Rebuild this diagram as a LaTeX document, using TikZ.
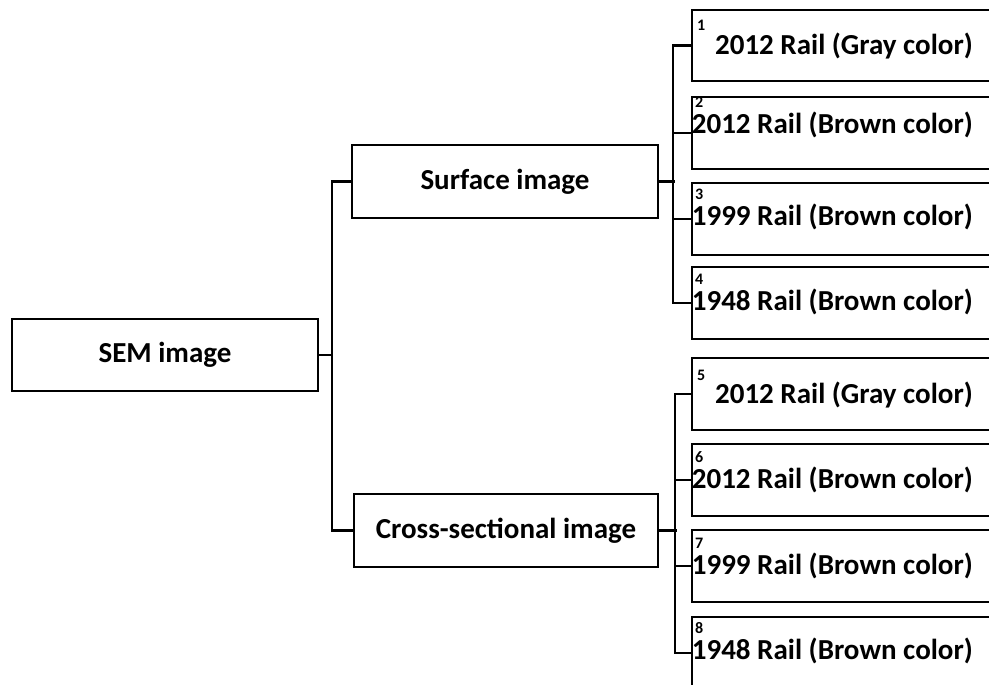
\documentclass[tikz,border=0pt]{standalone}
\usepackage{fontspec}
\setmainfont{Carlito}
\usepackage{tikz}
\usetikzlibrary{positioning}

\tikzset{
    mainbox/.style={draw, line width=2.4pt, minimum height=73pt, inner sep=0pt,
        font=\fontsize{29}{34}\selectfont\bfseries},
    railbox/.style={draw, line width=2.4pt, minimum width=330pt, minimum height=72pt, inner sep=0pt},
    railtxt/.style={anchor=base east, inner sep=0pt, font=\fontsize{29}{34}\selectfont\bfseries},
    railnum/.style={anchor=base west, inner sep=0pt, font=\fontsize{16}{18}\selectfont\bfseries},
    branch/.style={line width=2.4pt}
}

\begin{document}
\begin{tikzpicture}[x=1pt,y=-1pt]
    \useasboundingbox (0,0) rectangle (989,685);
    \clip (0,0) rectangle (989,685);

    % left part
    \node[mainbox, minimum width=306pt, minimum height=72pt] (sem) at (165,355) {SEM image};
    \node[mainbox, minimum width=306pt] (surf) at (505,181.5) {Surface image};
    \node[mainbox, minimum width=304pt] (cross) at (506,530.5) {Cross-sectional image};

    \draw[branch] (sem.east) -- (333,355);
    \draw[branch] (surf.west) -- ++(-19,0) |- (cross.west);

    % surface images
    \node[railbox, minimum height=71pt] (r1) at (857,45.5) {};
    \node[railbox] (r2) at (857,133) {};
    \node[railbox] (r3) at (857,219) {};
    \node[railbox] (r4) at (857,303) {};
    \node[railtxt] (t1) at (973,55) {2012 Rail (Gray color)};
    \node[railtxt] (t2) at (973,134) {2012 Rail (Brown color)};
    \node[railtxt] (t3) at (973,225) {1999 Rail (Brown color)};
    \node[railtxt] (t4) at (973,310) {1948 Rail (Brown color)};
    \node[railnum] (k1) at (697,31) {1};
    \node[railnum] (k2) at (695,108) {2};
    \node[railnum] (k3) at (695,199) {3};
    \node[railnum] (k4) at (695,284) {4};

    \draw[branch] (surf.east) -- ++(16,0);
    \draw[branch] (r1.west) -- ++(-18,0) |- (r4.west);
    \draw[branch] (r2.west) -- ++(-18,0);
    \draw[branch] (r3.west) -- ++(-18,0);

    % cross-sectional images
    \node[railbox] (r5) at (857,394) {};
    \node[railbox] (r6) at (857,480) {};
    \node[railbox] (r7) at (857,566) {};
    \node[railbox] (r8) at (857,653) {};
    \node[railtxt] (t5) at (973,403) {2012 Rail (Gray color)};
    \node[railtxt] (t6) at (973,488) {2012 Rail (Brown color)};
    \node[railtxt] (t7) at (973,574) {1999 Rail (Brown color)};
    \node[railtxt] (t8) at (973,659) {1948 Rail (Brown color)};
    \node[railnum] (k5) at (697,380) {5};
    \node[railnum] (k6) at (695,462) {6};
    \node[railnum] (k7) at (695,548) {7};
    \node[railnum] (k8) at (695,633) {8};

    \draw[branch] (cross.east) -- ++(18,0);
    \draw[branch] (r5.west) -- ++(-16,0) |- (r8.west);
    \draw[branch] (r6.west) -- ++(-16,0);
    \draw[branch] (r7.west) -- ++(-16,0);
\end{tikzpicture}
\end{document}
